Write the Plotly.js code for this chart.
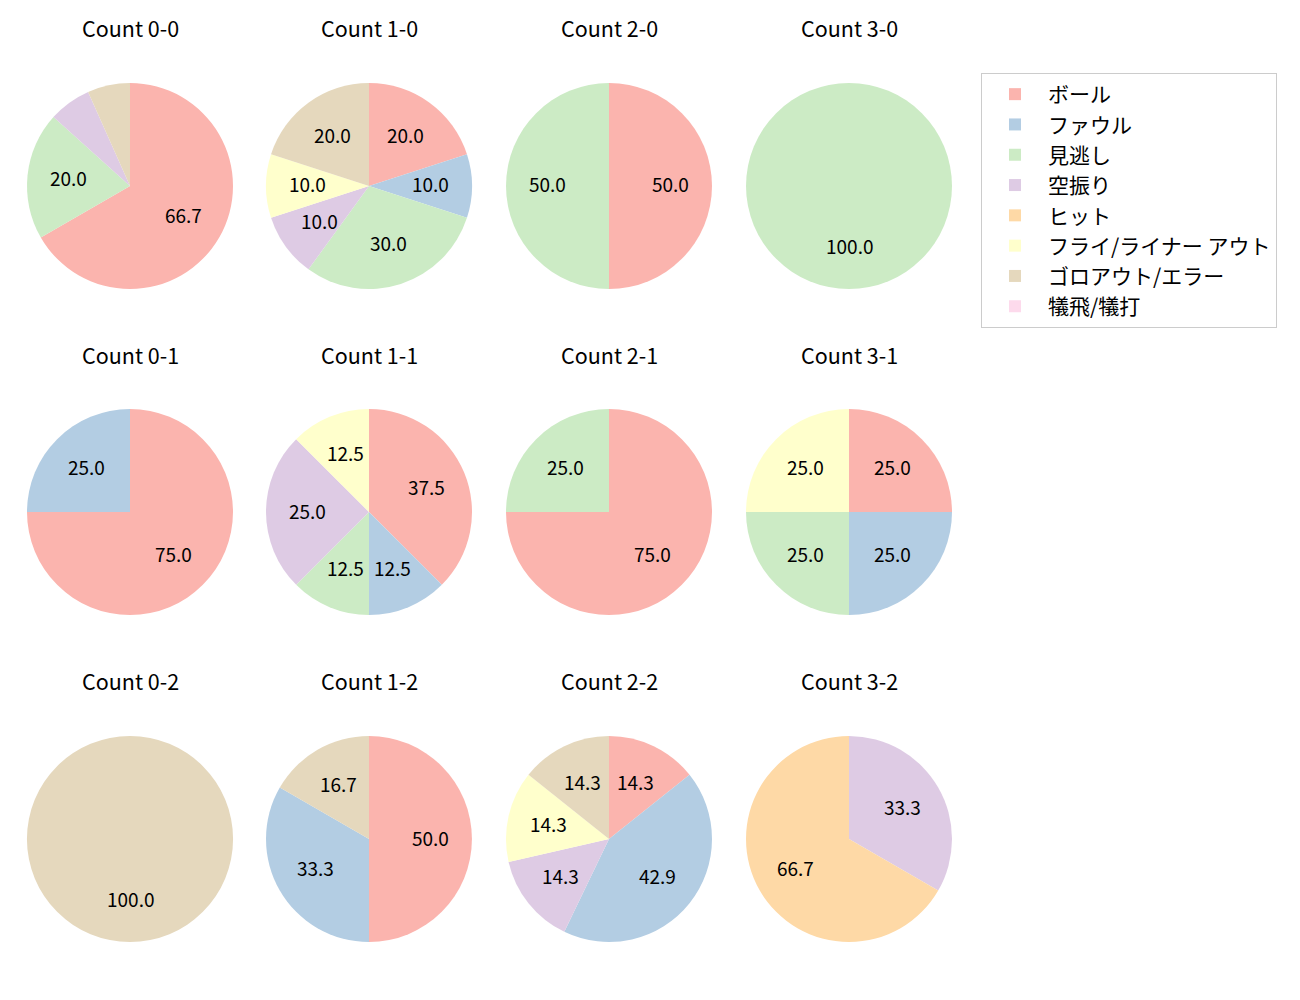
<!DOCTYPE html>
<html>
<head>
<meta charset="utf-8">
<script src="https://cdn.plot.ly/plotly-3.0.1.min.js"></script>
<style>html,body{margin:0;padding:0;background:#fff;}</style>
</head>
<body>
<div id="chart" style="width:1300px;height:1000px;"></div>
<script>
// Categories (legend order)
const labels = ["ボール", "ファウル", "見逃し", "空振り", "ヒット", "フライ/ライナー アウト", "ゴロアウト/エラー", "犠飛/犠打"];
const colors = ["#fbb4ae", "#b3cde3", "#ccebc5", "#decbe4", "#fed9a6", "#ffffcc", "#e5d8bd", "#fddaec"];

// Pitch-count panels
const titles = ["Count 0-0", "Count 1-0", "Count 2-0", "Count 3-0",
                "Count 0-1", "Count 1-1", "Count 2-1", "Count 3-1",
                "Count 0-2", "Count 1-2", "Count 2-2", "Count 3-2"];

// Values per panel (counts, in label order)
const count_0_0 = [10, 0, 3, 1, 0, 0, 1, 0];
const count_1_0 = [2, 1, 3, 1, 0, 1, 2, 0];
const count_2_0 = [1, 0, 1, 0, 0, 0, 0, 0];
const count_3_0 = [0, 0, 1, 0, 0, 0, 0, 0];
const count_0_1 = [3, 1, 0, 0, 0, 0, 0, 0];
const count_1_1 = [3, 1, 1, 2, 0, 1, 0, 0];
const count_2_1 = [3, 0, 1, 0, 0, 0, 0, 0];
const count_3_1 = [1, 1, 1, 0, 0, 1, 0, 0];
const count_0_2 = [0, 0, 0, 0, 0, 0, 1, 0];
const count_1_2 = [3, 2, 0, 0, 0, 0, 1, 0];
const count_2_2 = [1, 3, 0, 1, 0, 1, 1, 0];
const count_3_2 = [0, 0, 0, 1, 2, 0, 0, 0];

const panels = [count_0_0, count_1_0, count_2_0, count_3_0,
                count_0_1, count_1_1, count_2_1, count_3_1,
                count_0_2, count_1_2, count_2_2, count_3_2];

// Layout geometry (pixels)
const W = 1300, H = 1000;
const colCenters = [130, 369, 609, 849];
const rowCenters = [186, 512, 839];
const titleY = [27, 354, 680];
const R = 103;
const LABEL_DY = -2;
const FONT = '"Noto Sans CJK JP", "Noto Sans", sans-serif';

const traces = [];
const annotations = [];

panels.forEach((vals, i) => {
  const c = i % 4, r = Math.floor(i / 4);
  const cx = colCenters[c], cy = rowCenters[r];
  traces.push({
    type: 'pie',
    labels: labels,
    values: vals,
    marker: {colors: colors, line: {color: '#ffffff', width: 0}},
    sort: false,
    direction: 'clockwise',
    rotation: 0,
    textinfo: 'none',
    hoverinfo: 'label+percent',
    showlegend: i === 0,
    domain: {x: [(cx - R) / W, (cx + R) / W], y: [1 - (cy + R) / H, 1 - (cy - R) / H]}
  });
  annotations.push({
    text: titles[i], xref: 'paper', yref: 'paper',
    x: cx / W, y: 1 - titleY[r] / H, xanchor: 'center', yanchor: 'middle',
    showarrow: false, font: {size: 21.5, color: '#000', family: FONT}
  });
  const total = vals.reduce((a, b) => a + b, 0);
  let cum = 0;
  vals.forEach((v) => {
    if (v <= 0) return;
    const frac = v / total;
    const pct = frac * 100;
    const mid = (90 - 360 * (cum + frac / 2)) * Math.PI / 180;
    cum += frac;
    if (pct < 9.99) return;
    const px = cx + 0.6 * R * Math.cos(mid);
    const py = cy - 0.6 * R * Math.sin(mid) + LABEL_DY;
    annotations.push({
      text: pct.toFixed(1), xref: 'paper', yref: 'paper',
      x: px / W, y: 1 - py / H, xanchor: 'center', yanchor: 'middle',
      showarrow: false, font: {size: 19, color: '#000', family: FONT}
    });
  });
});

const layout = {
  width: W, height: H,
  margin: {l: 0, r: 0, t: 0, b: 0},
  paper_bgcolor: '#fff',
  font: {family: FONT, color: '#000'},
  showlegend: true,
  legend: {
    x: 981 / W, y: 1 - 73 / H, xanchor: 'left', yanchor: 'top',
    bordercolor: '#cccccc', borderwidth: 1, bgcolor: '#fff',
    font: {size: 21, family: FONT, color: '#000'},
    itemwidth: 56,
    itemclick: false, itemdoubleclick: false
  },
  annotations: annotations
};

Plotly.newPlot('chart', traces, layout, {displayModeBar: false, staticPlot: true});
</script>
</body>
</html>
